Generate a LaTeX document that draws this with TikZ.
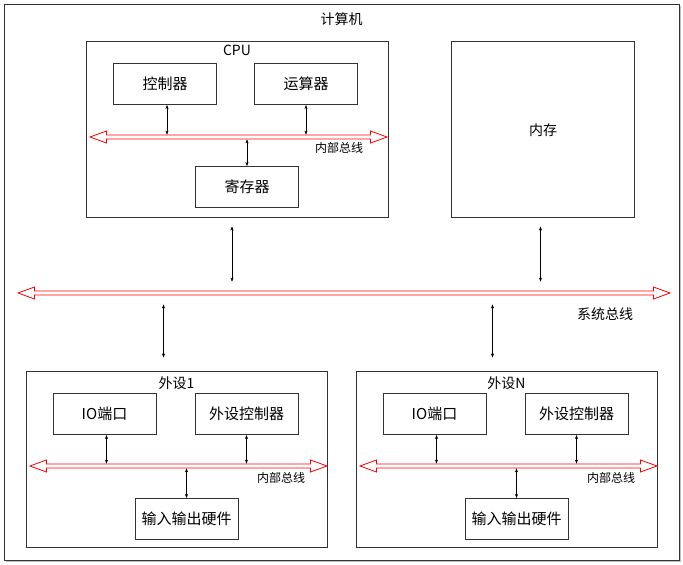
\documentclass[tikz,border=0pt]{standalone}
\usepackage{fontspec}
\setmainfont{Noto Sans CJK SC}
\usetikzlibrary{arrows.meta,shapes.arrows,shadows,calc}

\tikzset{
  unit/.style={draw=black!80, line width=1pt, minimum width=103pt, minimum height=41pt, font=\fontsize{15}{17}\selectfont},
  group/.style={draw=black!80, line width=1pt, fill=white},
  bus/.style={shape=double arrow, draw=red, line width=0.8pt, fill=white, inner sep=1.6pt,
    double arrow head extend=4pt, double arrow tip angle=40, double arrow head indent=0pt},
  link/.style={{Stealth[length=4pt,width=3pt]}-{Stealth[length=4pt,width=3pt]}, line width=0.4pt},
  tag/.style={font=\fontsize{14}{16}\selectfont},
  bustag/.style={font=\fontsize{12}{14}\selectfont}
}

\begin{document}
\begin{tikzpicture}[x=1pt,y=-1pt]
  \fill[white] (0,0) rectangle (683,565);
  \useasboundingbox (0,0) rectangle (683,565);

  % whole machine
  \node[group, minimum width=675pt, minimum height=556pt,
    drop shadow={shadow xshift=1.5pt, shadow yshift=-1.5pt, opacity=0.5}] (computer) at (341.5,282) {};
  \node[tag] (computertag) at (341.5,19) {计算机};

  % cpu
  \node[group, minimum width=302pt, minimum height=176pt] (cpu) at (237,129) {};
  \node[tag] (cputag) at (237,50) {CPU};
  \node[unit] (ctrl) at (165,84) {控制器};
  \node[unit] (alu) at (306,84) {运算器};
  \node[unit] (reg) at (247,187) {寄存器};
  \node[bus, minimum height=297pt] (cpubus) at (238.5,137) {};
  \node[bustag] (cpubustag) at (339,148) {内部总线};
  \draw[link] ([xshift=2pt]ctrl.south) -- ([xshift=2pt]ctrl.south |- cpubus.north);
  \draw[link] (alu.south) -- (alu.south |- cpubus.north);
  \draw[link] (reg.north) -- (reg.north |- cpubus.south);

  % memory
  \node[group, minimum width=183pt, minimum height=176pt] (mem) at (542.5,129) {};
  \node[tag] (memtag) at (543,130) {内存};

  % system bus
  \node[bus, minimum height=652pt] (sysbus) at (344,293) {};
  \node[tag] (sysbustag) at (605,314) {系统总线};

  % peripheral 1
  \node[group, minimum width=301pt, minimum height=176pt] (dev1) at (176.5,459) {};
  \node[tag] (dev1tag) at (176.5,383) {外设1};
  \node[unit] (port1) at (104.5,414) {IO端口};
  \node[unit] (devctrl1) at (246.5,414) {外设控制器};
  \node[unit] (hw1) at (186.5,519) {输入输出硬件};
  \node[bus, minimum height=297pt] (devbus1) at (178.5,466) {};
  \node[bustag] (devbus1tag) at (281,478) {内部总线};
  \draw[link] ([xshift=2pt]port1.south) -- ([xshift=2pt]port1.south |- devbus1.north);
  \draw[link] (devctrl1.south) -- (devctrl1.south |- devbus1.north);
  \draw[link] (hw1.north) -- (hw1.north |- devbus1.south);

  % peripheral N
  \node[group, minimum width=301pt, minimum height=176pt] (devn) at (506.5,459) {};
  \node[tag] (devntag) at (506.5,383) {外设N};
  \node[unit] (portn) at (434.5,414) {IO端口};
  \node[unit] (devctrln) at (576.5,414) {外设控制器};
  \node[unit] (hwn) at (516.5,519) {输入输出硬件};
  \node[bus, minimum height=297pt] (devbusn) at (508.5,466) {};
  \node[bustag] (devbusntag) at (611,478) {内部总线};
  \draw[link] ([xshift=2pt]portn.south) -- ([xshift=2pt]portn.south |- devbusn.north);
  \draw[link] (devctrln.south) -- (devctrln.south |- devbusn.north);
  \draw[link] (hwn.north) -- (hwn.north |- devbusn.south);

  % links to the system bus
  \draw[link] ($(cpu.south)+(-5,9)$) -- ($(cpu.south |- sysbus.north)+(-5,-9)$);
  \draw[link] ($(mem.south)+(-2,9)$) -- ($(mem.south |- sysbus.north)+(-2,-9)$);
  \draw[link] ($(dev1.north)+(-13,-13)$) -- ($(dev1.north |- sysbus.south)+(-13,9)$);
  \draw[link] ($(devn.north)+(-14,-13)$) -- ($(devn.north |- sysbus.south)+(-14,9)$);
\end{tikzpicture}
\end{document}
